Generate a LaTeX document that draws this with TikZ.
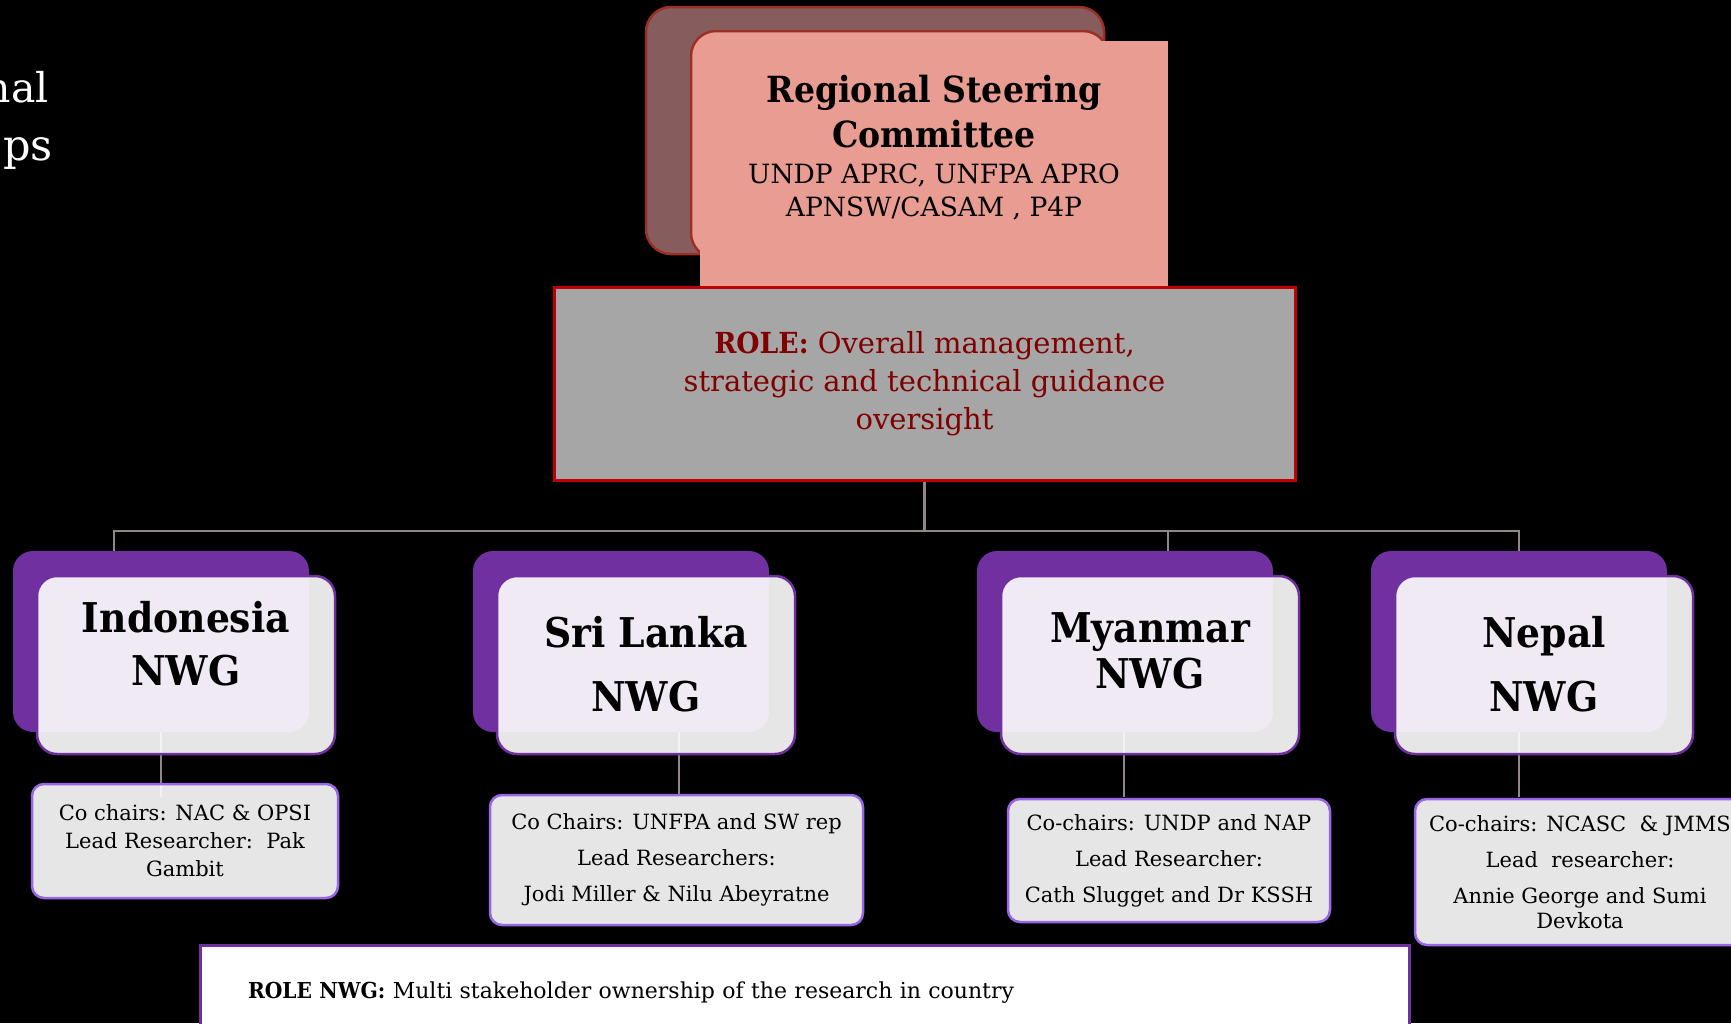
\documentclass[tikz,border=0pt]{standalone}
\usepackage{fontspec}
\setmainfont{DejaVu Serif}[BoldFeatures={FakeStretch=0.92}]
\usetikzlibrary{backgrounds}
\definecolor{rscBack}{RGB}{135,92,92}
\definecolor{rscFront}{RGB}{233,156,146}
\definecolor{rscLine}{RGB}{155,48,38}
\definecolor{roleGrey}{RGB}{166,166,166}
\definecolor{roleRed}{RGB}{192,0,0}
\definecolor{roleText}{RGB}{128,0,0}
\definecolor{nwgPurple}{RGB}{112,48,160}
\definecolor{infoLine}{RGB}{153,102,232}
\definecolor{linkGrey}{RGB}{145,135,135}

\tikzset{
  card/.style={rounded corners=25pt, inner sep=0pt, draw=rscLine, line width=2.5pt},
  nwgback/.style={fill=nwgPurple, rounded corners=20pt, minimum width=296pt, minimum height=181pt, inner sep=0pt},
  nwgfront/.style={draw=nwgPurple, line width=2.5pt, fill=white, fill opacity=0.9, rounded corners=20pt, minimum width=298pt, minimum height=178pt, inner sep=0pt},
  nwgname/.style={anchor=north, inner sep=0pt, align=center, font=\fontsize{41}{#1}\selectfont\bfseries},
  infobox/.style={draw=infoLine, line width=2.5pt, fill=white, fill opacity=0.9, text opacity=1, rounded corners=12pt, align=center, inner sep=0pt},
  link/.style={draw=linkGrey, line width=2.5pt},
}

\begin{document}
\begin{tikzpicture}[x=1pt, y=-1pt]
    \useasboundingbox (0,0) rectangle (1731,1023);

    % Heading, cut off at the left edge
    \node[anchor=base east, inner sep=0pt, text=white, font=\fontsize{41}{48}\selectfont] (head-a) at (49,102) {nal};
    \node[anchor=base east, inner sep=0pt, text=white, font=\fontsize{43}{48}\selectfont] (head-b) at (53,160) {ps};

    % Regional steering committee cards
    \node[card, fill=rscBack, minimum width=458pt, minimum height=247pt] (rsc-back) at (875,130.5) {};
    \node[card, fill=rscFront, minimum width=417pt, minimum height=227pt] (rsc-front) at (899.5,144.5) {};
    \node[fill=rscFront, minimum width=468pt, minimum height=248pt, inner sep=0pt] (rsc) at (934,165) {};
    \node[anchor=north, inner sep=0pt, align=center, font=\fontsize{36}{45}\selectfont\bfseries] (rsc-name) at (934,74.6) {Regional Steering\\Committee};
    \node[anchor=north, inner sep=0pt, align=center, font=\fontsize{26.5}{33}\selectfont] (rsc-members) at (934,164) {UNDP APRC, UNFPA APRO\\APNSW/CASAM , P4P};

    % Role of the committee
    \node[draw=roleRed, line width=3pt, fill=roleGrey, text=roleText, minimum width=741pt, minimum height=193pt, align=center, font=\fontsize{29}{38}\selectfont] (role) at (924.5,384)
        {\textbf{ROLE:} Overall management,\\strategic and technical guidance\\oversight};

    % Country working groups
    \foreach \key/\x/\name/\top/\gap in {ind/186/Indonesia/601/53, sri/646/Sri Lanka/616/64, mya/1150/Myanmar/612/46, nep/1544/Nepal/616/64} {
        \node[nwgfront] (\key) at (\x,665) {};
        \node[nwgname=\gap] (\key-name) at (\x,\top) {\name\\NWG};
    }

    % Chairs and researchers
    \node[infobox, minimum width=306pt, minimum height=114pt, font=\fontsize{21}{28}\selectfont] (ind-info) at (185,841)
        {Co chairs: NAC \& OPSI\\Lead Researcher:\ \ Pak\\Gambit};
    \node[infobox, minimum width=373pt, minimum height=130pt, font=\fontsize{21}{36}\selectfont] (sri-info) at (676.5,860)
        {Co Chairs: UNFPA and SW rep\\Lead Researchers:\\Jodi Miller \& Nilu Abeyratne};
    \node[infobox, minimum width=322pt, minimum height=123pt, font=\fontsize{21}{36}\selectfont] (mya-info) at (1169,860.5)
        {Co-chairs: UNDP and NAP\\Lead Researcher:\\Cath Slugget and Dr KSSH};
    \node[infobox, minimum width=330pt, minimum height=146pt, font=\fontsize{21}{36}\selectfont] (nep-info) at (1580,872)
        {Co-chairs: NCASC\ \ \& JMMS\\Lead\ \ researcher:\\Annie George and Sumi\\[-11pt]Devkota};

    % Role of the working groups
    \node[draw=nwgPurple, line width=3pt, fill=white, minimum height=95pt, text width=1113pt, inner xsep=48pt, align=left, font=\fontsize{22}{26}\selectfont] (nwg-role) at (804.5,992.5)
        {\textbf{ROLE NWG:} Multi stakeholder ownership of the research in country};

    \begin{pgfonlayer}{background}
        \fill[black] (0,0) rectangle (1731,1023);
        \foreach \key in {ind,sri,mya,nep}
            \node[nwgback] (\key-back) at ([shift={(-25,-23.5)}]\key.center) {};
        % links down to the detail boxes
        \coordinate (infoTop) at (0,797);
        \foreach \key/\lx in {ind/161, sri/679, mya/1124, nep/1519}
            \draw[link] (\key-back.south -| \lx,0) -- (infoTop -| \lx,0);
        % bus from the committee to the groups
        \coordinate (bus) at (0,531);
        \draw[link] (role.south) -- (bus -| role.south);
        \draw[link] (ind-back.north -| 114,0) -- (bus -| 114,0) -- (bus -| 1519,0) -- (nep-back.north -| 1519,0);
        \draw[link] (mya-back.north -| 1168,0) -- (bus -| 1168,0);
    \end{pgfonlayer}
\end{tikzpicture}
\end{document}
